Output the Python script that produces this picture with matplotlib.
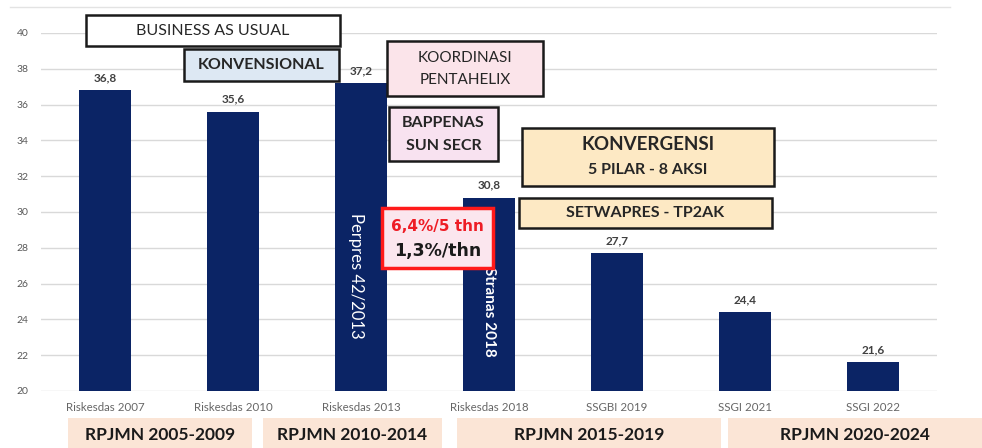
import matplotlib
matplotlib.use("Agg")
import matplotlib.pyplot as plt
from matplotlib.patches import Rectangle
from matplotlib.lines import Line2D

plt.rcParams['font.family'] = ['Lato', 'DejaVu Sans']

# ---- data ----
categories = ["Riskesdas 2007", "Riskesdas 2010", "Riskesdas 2013", "Riskesdas 2018",
              "SSGBI 2019", "SSGI 2021", "SSGI 2022"]
values = [36.8, 35.6, 37.2, 30.8, 27.7, 24.4, 21.6]
yticks = [20, 22, 24, 26, 28, 30, 32, 34, 36, 38, 40]
periods = ["RPJMN 2005-2009", "RPJMN 2010-2014", "RPJMN 2015-2019", "RPJMN 2020-2024"]

W, H = 982, 448
fig = plt.figure(figsize=(W / 100, H / 100), dpi=100)
fig.patch.set_facecolor("white")

def fx(px):
    return px / W

def fy(py):
    return 1 - py / H

ax = fig.add_axes([fx(41), fy(391), fx(937) - fx(41), fy(33) - fy(391)])
x = list(range(len(categories)))
bar_color = "#0b2465"
ax.bar(x, values, width=0.41, color=bar_color, zorder=3)
ax.set_xlim(-0.5, len(categories) - 0.5)
ax.set_ylim(20, 40)
ax.set_yticks(yticks)
ax.set_yticklabels([str(t) for t in yticks], fontsize=7.5, color="#595959")
ax.set_xticks(x)
ax.set_xticklabels(categories, fontsize=8.3, color="#666666")
ax.tick_params(axis="both", length=0)
ax.tick_params(axis="x", pad=8)
ax.tick_params(axis="y", pad=9)
for s in ax.spines.values():
    s.set_visible(False)
ax.grid(axis="y", color="#d9d9d9", linewidth=1, zorder=0)
ax.set_axisbelow(True)

for xi, v in zip(x, values):
    ax.annotate(f"{v:.1f}".replace(".", ","), (xi, v), xytext=(0, 5),
                textcoords="offset points", ha="center", va="bottom",
                fontsize=8.5, fontweight="bold", color="#404040", zorder=4)

# rotated labels inside bars
ax.text(2 - 0.04, 29.95, "Perpres 42/2013", rotation=-90, ha="center", va="top",
        color="white", fontsize=12, zorder=5)
ax.text(3, 26.9, "Stranas 2018", rotation=-90, ha="center", va="top",
        color="white", fontsize=11, fontweight="bold", zorder=5)

# top frame line
fig.add_artist(Line2D([fx(10), fx(950)], [fy(7), fy(7)], color="#e3e3e3", lw=1))


def box(l, t, r, b, fc, ec="#1a1a1a", lw=1.8):
    fig.add_artist(Rectangle((fx(l), fy(b)), fx(r) - fx(l), fy(t) - fy(b),
                             transform=fig.transFigure, facecolor=fc,
                             edgecolor=ec, linewidth=lw, zorder=10))


def label(px, py, s, **kw):
    kw.setdefault("ha", "center")
    kw.setdefault("va", "center")
    kw.setdefault("color", "#262626")
    fig.text(fx(px), fy(py), s, zorder=11, **kw)


box(86, 15, 340, 46, "white")
label(213, 31, "BUSINESS AS USUAL", fontsize=11.5)

box(184, 49, 339, 81, "#dde8f3")
label(261.5, 65, "KONVENSIONAL", fontsize=11.5, fontweight="bold")

box(387, 41, 543, 96, "#fbe4ea")
label(465, 58, "KOORDINASI", fontsize=11)
label(465, 80, "PENTAHELIX", fontsize=11)

box(389, 107, 498, 161, "#f8e2f0")
label(443.5, 123, "BAPPENAS", fontsize=11.5, fontweight="bold")
label(443.5, 146, "SUN SECR", fontsize=11.5, fontweight="bold")

box(522, 128, 774, 186, "#fde9c4")
label(648, 145, "KONVERGENSI", fontsize=13.5, fontweight="bold")
label(648, 170, "5 PILAR - 8 AKSI", fontsize=11.5, fontweight="bold")

box(519, 198, 772, 228, "#fde9c4")
label(645.5, 213, "SETWAPRES - TP2AK", fontsize=11.5, fontweight="bold")

box(382, 208, 493, 268, "#fbe6ee", ec="#ff1a1a", lw=2.5)
label(437.5, 226, "6,4%/5 thn", fontsize=11, fontweight="bold", color="#ee1c25",
      family="DejaVu Sans")
label(437.5, 251, "1,3%/thn", fontsize=12.5, fontweight="semibold", color="#1a1a1a",
      family="DejaVu Sans")

# bottom period boxes
period_px = [(68, 252), (263, 442), (457, 721), (728, 982)]
for (l, r), name in zip(period_px, periods):
    fig.add_artist(Rectangle((fx(l), 0), fx(r) - fx(l), fy(418),
                             transform=fig.transFigure, facecolor="#fbe5d6",
                             edgecolor="none", zorder=10))
    label((l + r) / 2, 435, name, fontsize=12.5, fontweight="bold", color="#1a1a1a")

fig.savefig("out.png", dpi=100)
